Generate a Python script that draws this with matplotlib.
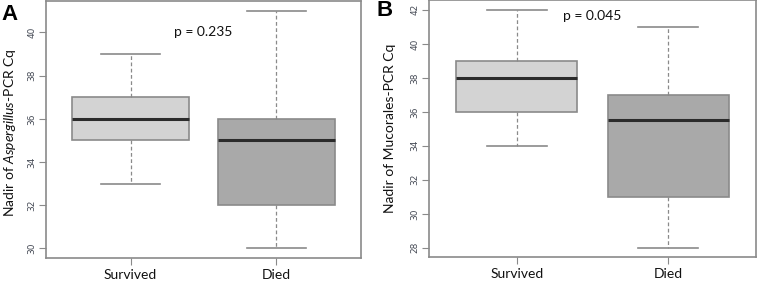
import matplotlib
matplotlib.use("Agg")
import matplotlib.pyplot as plt

groups = ["Survived", "Died"]
fills = ["#d3d3d3", "#a9a9a9"]

# panel A: Aspergillus-PCR Cq
a_low = [33, 30]
a_q1 = [35, 32]
a_med = [36, 35]
a_q3 = [37, 36]
a_high = [39, 41]
a_ticks = [30, 32, 34, 36, 38, 40]

# panel B: Mucorales-PCR Cq
b_low = [34, 28]
b_q1 = [36, 31]
b_med = [38, 35.5]
b_q3 = [39, 37]
b_high = [42, 41]
b_ticks = [28, 30, 32, 34, 36, 38, 40, 42]

plt.rcParams['font.family'] = ['Lato', 'DejaVu Sans']
plt.rcParams['mathtext.fontset'] = 'custom'
plt.rcParams['mathtext.rm'] = 'Lato'
plt.rcParams['mathtext.it'] = 'Lato:italic'

W, H = 757, 282
fig = plt.figure(figsize=(W / 100, H / 100), dpi=100)

def px_axes(l, t, r, b):
    return fig.add_axes([l / W, 1 - b / H, (r - l) / W, (b - t) / H])

def draw_panel(ax, low, q1, med, q3, high, ticks, ylim):
    stats = []
    for i in range(len(groups)):
        stats.append(dict(whislo=low[i], q1=q1[i], med=med[i], q3=q3[i], whishi=high[i]))
    bp = ax.bxp(stats, positions=[1, 2], widths=0.8, showfliers=False, patch_artist=True,
                boxprops=dict(edgecolor='#8a8a8a', linewidth=1.2),
                medianprops=dict(color='#2b2b2b', linewidth=2.2),
                whiskerprops=dict(color='#8a8a8a', linewidth=0.9, linestyle=(0, (3, 2))),
                capprops=dict(color='#8a8a8a', linewidth=1.2),
                capwidths=0.4)
    for patch, c in zip(bp['boxes'], fills):
        patch.set_facecolor(c)
    ax.set_xlim(0.42, 2.58)
    ax.set_ylim(*ylim)
    ax.set_yticks(ticks)
    ax.set_yticklabels([str(t) for t in ticks], rotation=90, va='center',
                       fontsize=6.5, color='#454a55', family='DejaVu Sans')
    ax.set_xticks([1, 2])
    ax.set_xticklabels(groups, fontsize=10, color='#111111')
    ax.tick_params(axis='y', length=5, width=0.8, color='#8a8a8a', pad=2)
    ax.tick_params(axis='x', length=5, width=0.8, color='#8a8a8a', pad=3)
    for s in ax.spines.values():
        s.set_color('#8a8a8a')
        s.set_linewidth(1.2)

ax1 = px_axes(46, 1.2, 361, 258)
draw_panel(ax1, a_low, a_q1, a_med, a_q3, a_high, a_ticks, (29.56, 41.44))
ax1.text(1.5, 40, "p = 0.235", ha='center', va='center', fontsize=10, color='#111111')

ax2 = px_axes(429, 0.3, 756, 257.3)
draw_panel(ax2, b_low, b_q1, b_med, b_q3, b_high, b_ticks, (27.44, 42.56))
ax2.text(1.5, 41.63, "p = 0.045", ha='center', va='center', fontsize=10, color='#111111')

fig.text(10 / W, 1 - 133 / H, r"Nadir of $\mathit{Aspergillus}$-PCR Cq", rotation=90,
         ha='center', va='center', fontsize=10, color='#111111')
fig.text(390 / W, 1 - 128 / H, "Nadir of Mucorales-PCR Cq", rotation=90,
         ha='center', va='center', fontsize=10, color='#111111')

fig.text(1 / W, 1 - 15 / H, "A", fontsize=16, fontweight='bold', ha='left', va='center',
         family='Liberation Sans')
fig.text(377 / W, 1 - 10 / H, "B", fontsize=16, fontweight='bold', ha='left', va='center',
         family='Liberation Sans')

fig.savefig("out.png", dpi=100)
